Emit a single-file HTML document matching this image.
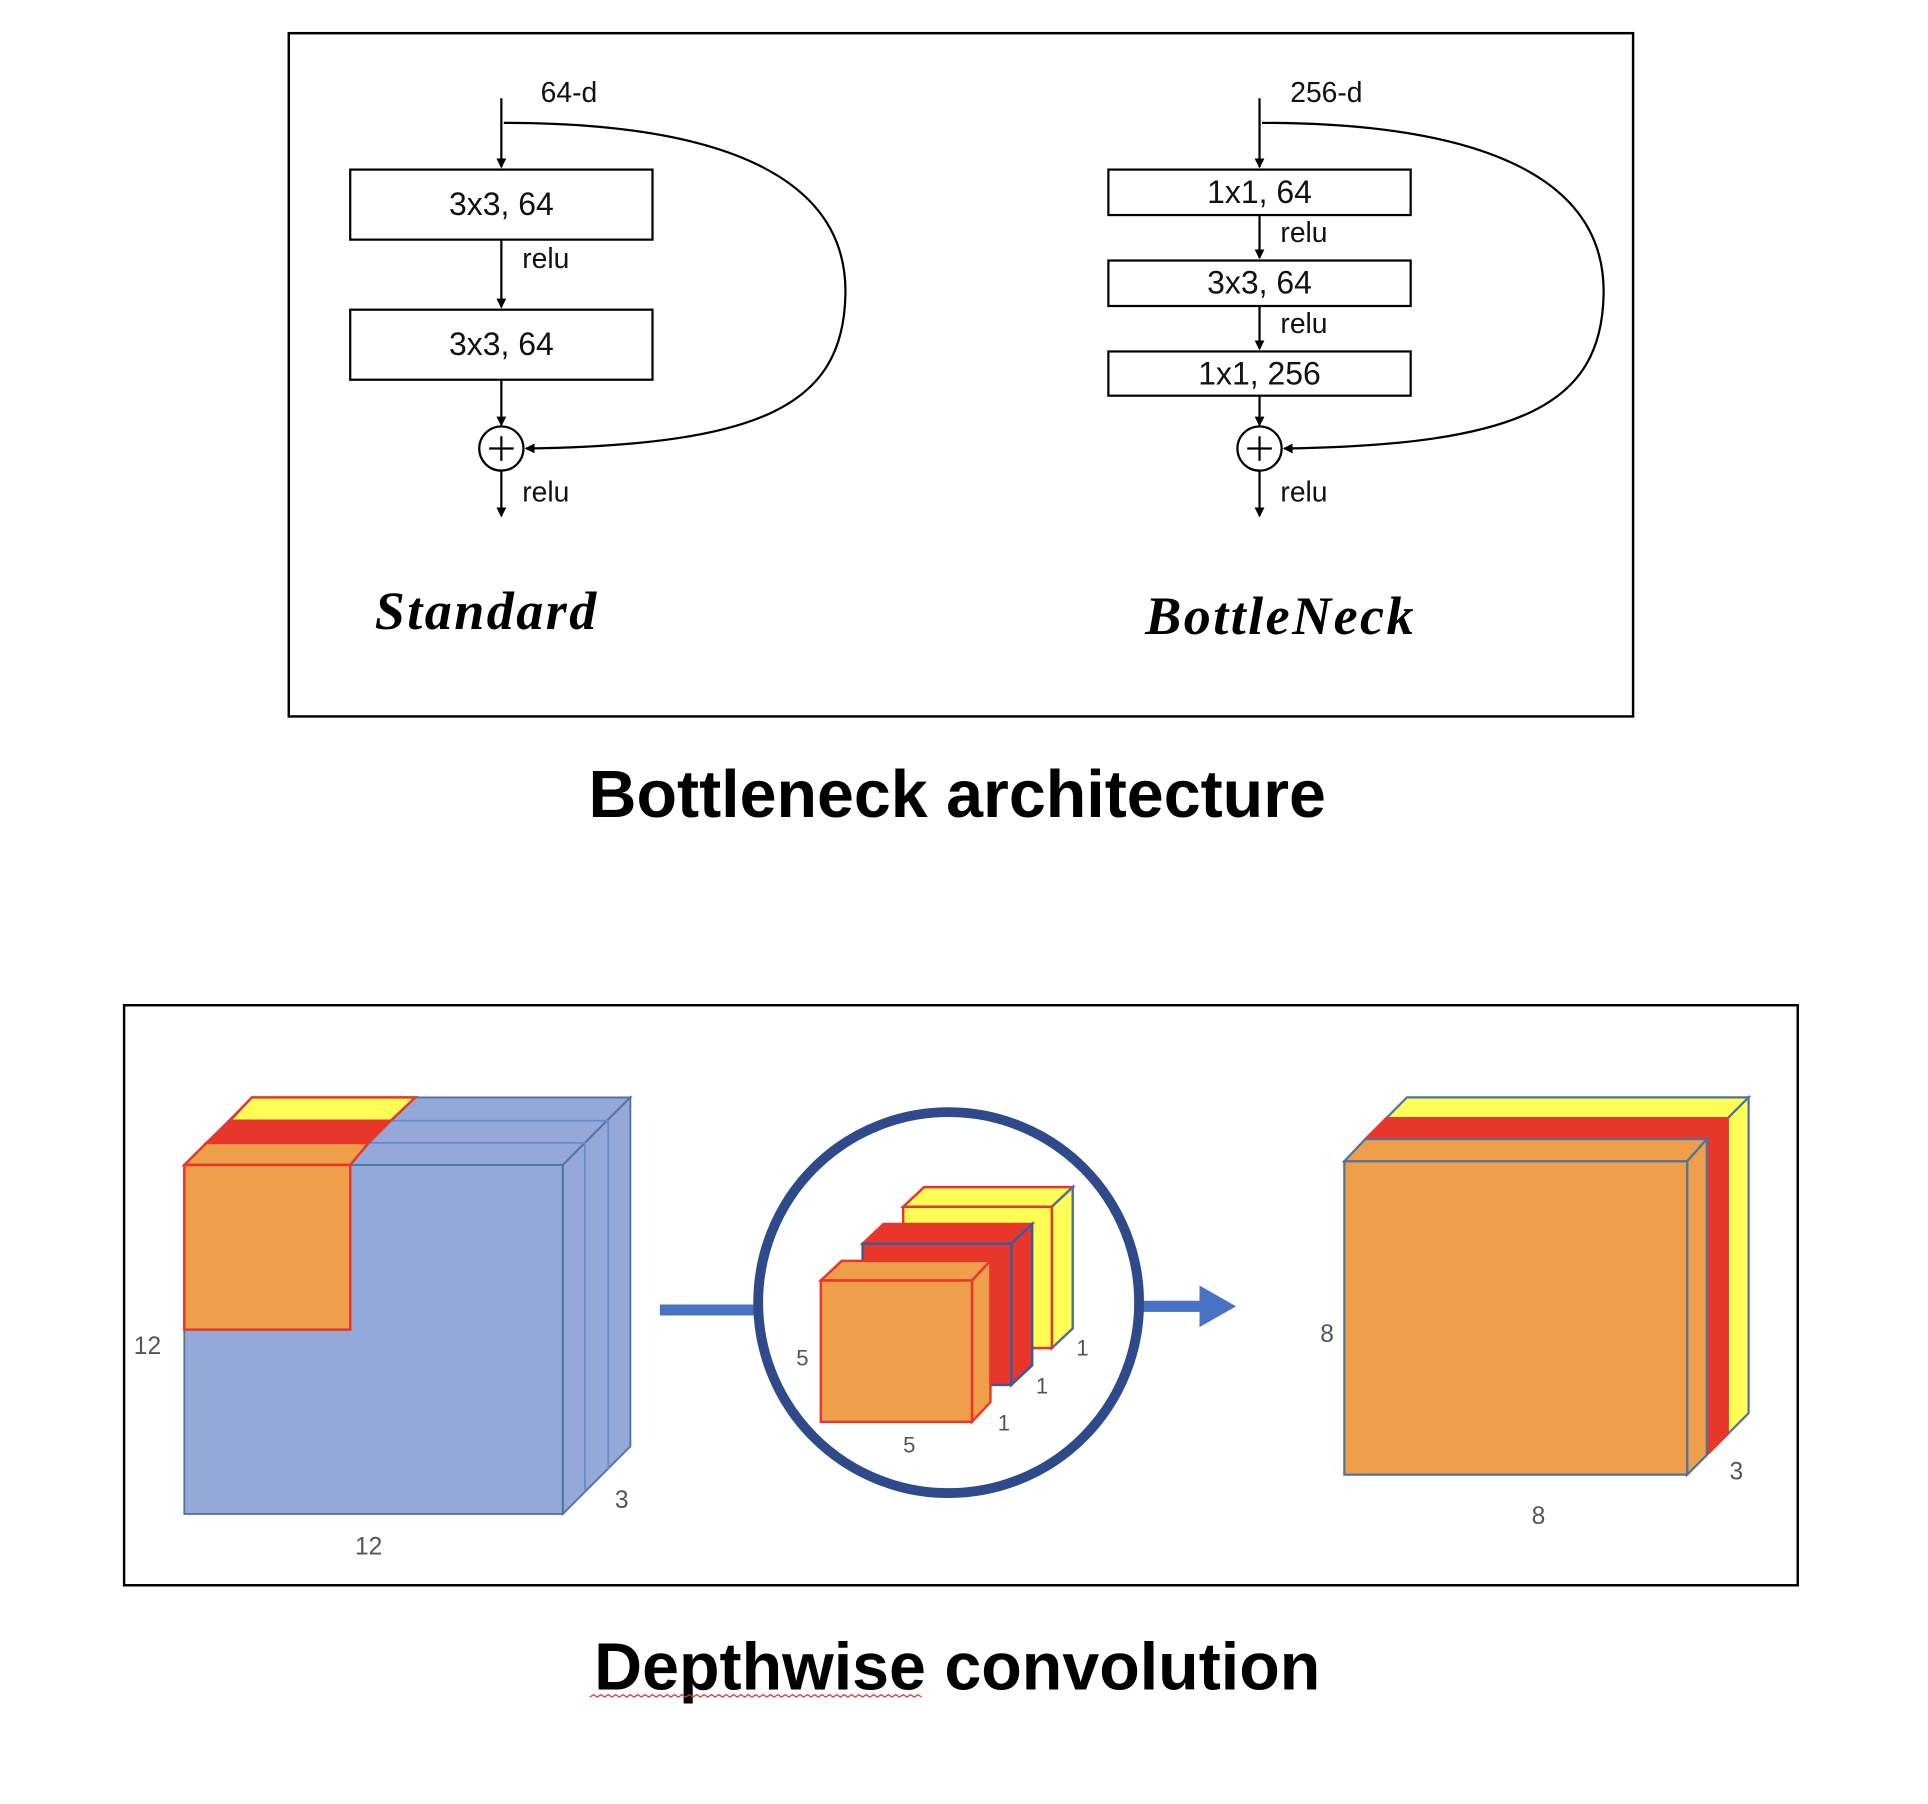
<!DOCTYPE html>
<html><head><meta charset="utf-8"><style>
html,body{margin:0;padding:0;background:#fff;}
svg{display:block;}
text{font-family:"Liberation Sans",sans-serif;}
</style></head><body>
<svg width="1928" height="1804" viewBox="0 0 1569 1468" preserveAspectRatio="none" xmlns="http://www.w3.org/2000/svg">
<defs>
<marker id="ah" markerWidth="8" markerHeight="8" refX="7" refY="4" orient="auto" markerUnits="userSpaceOnUse"><path d="M0,0 L8,4 L0,8 z" fill="#000"/></marker>
<marker id="bh" markerWidth="30" markerHeight="34" refX="2" refY="17" orient="auto" markerUnits="userSpaceOnUse"><path d="M0,0 L30,17 L0,34 z" fill="#4a72c4"/></marker>
</defs>
<rect x="235" y="27" width="1094" height="556" fill="none" stroke="#000" stroke-width="2"/>
<g stroke="#000" stroke-width="1.8" fill="none">
<line x1="408" y1="80" x2="408" y2="136" marker-end="url(#ah)"/>
<rect x="285" y="138" width="246" height="57"/>
<line x1="408" y1="195" x2="408" y2="250" marker-end="url(#ah)"/>
<rect x="285" y="252" width="246" height="57"/>
<line x1="408" y1="309" x2="408" y2="346" marker-end="url(#ah)"/>
<circle cx="408" cy="365" r="18"/>
<line x1="398" y1="365" x2="418" y2="365"/><line x1="408" y1="355" x2="408" y2="375"/>
<line x1="408" y1="383" x2="408" y2="420" marker-end="url(#ah)"/>
<path d="M410,100 C600,100 690,150 688,240 C686,330 620,362 428,365" marker-end="url(#ah)"/>
<line x1="1025" y1="80" x2="1025" y2="136" marker-end="url(#ah)"/>
<rect x="902" y="138" width="246" height="37"/>
<line x1="1025" y1="175" x2="1025" y2="210" marker-end="url(#ah)"/>
<rect x="902" y="212" width="246" height="37"/>
<line x1="1025" y1="249" x2="1025" y2="284" marker-end="url(#ah)"/>
<rect x="902" y="286" width="246" height="36"/>
<line x1="1025" y1="322" x2="1025" y2="346" marker-end="url(#ah)"/>
<circle cx="1025" cy="365" r="18"/>
<line x1="1015" y1="365" x2="1035" y2="365"/><line x1="1025" y1="355" x2="1025" y2="375"/>
<line x1="1025" y1="383" x2="1025" y2="420" marker-end="url(#ah)"/>
<path d="M1027,100 C1217,100 1307,150 1305,240 C1303,330 1237,362 1045,365" marker-end="url(#ah)"/>
</g>
<g font-size="23" fill="#111">
<text x="440" y="83">64-d</text>
<text x="408" y="175" text-anchor="middle" font-size="26">3x3, 64</text>
<text x="425" y="218">relu</text>
<text x="408" y="289" text-anchor="middle" font-size="26">3x3, 64</text>
<text x="425" y="408">relu</text>
<text x="1050" y="83">256-d</text>
<text x="1025" y="165" text-anchor="middle" font-size="26">1x1, 64</text>
<text x="1042" y="197">relu</text>
<text x="1025" y="239" text-anchor="middle" font-size="26">3x3, 64</text>
<text x="1042" y="271">relu</text>
<text x="1025" y="313" text-anchor="middle" font-size="26">1x1, 256</text>
<text x="1042" y="408">relu</text>
</g>
<text x="305" y="512" style="font-family:'Liberation Serif',serif;font-style:italic;font-weight:bold;font-size:44px;letter-spacing:2px">Standard</text>
<text x="932" y="516" style="font-family:'Liberation Serif',serif;font-style:italic;font-weight:bold;font-size:44px;letter-spacing:2px">BottleNeck</text>
<text x="779" y="665" text-anchor="middle" font-weight="bold" font-size="54">Bottleneck architecture</text>

<rect x="101" y="818" width="1362" height="472" fill="none" stroke="#000" stroke-width="2"/>
<g stroke="#4f72a0" stroke-width="1.5" fill="#94a9d8">
<polygon points="150,948 205,893 513,893 458,948"/>
<polygon points="458,948 513,893 513,1177 458,1232"/>
<rect x="150" y="948" width="308" height="284"/>
<polyline points="168,930 476,930 476,1214" fill="none" stroke="#6a8ad0"/>
<polyline points="187,912 495,912 495,1196" fill="none" stroke="#6a8ad0"/>
</g>
<g stroke="#e8362a" stroke-width="2">
<polygon points="187,912 205,893 338,893 318,912" fill="#fefe55"/>
<polygon points="168,930 187,912 318,912 300,930" fill="#e8362a"/>
<polygon points="150,948 168,930 300,930 285,948" fill="#ef9e4a"/>
<rect x="150" y="948" width="135" height="134" fill="#ef9e4a"/>
</g>
<g font-size="20" fill="#555">
<text x="120" y="1102" text-anchor="middle">12</text>
<text x="300" y="1265" text-anchor="middle">12</text>
<text x="506" y="1227" text-anchor="middle">3</text>
</g>
<line x1="537" y1="1066" x2="615" y2="1066" stroke="#4a72c4" stroke-width="9"/>
<line x1="930" y1="1063" x2="978" y2="1063" stroke="#4a72c4" stroke-width="9" marker-end="url(#bh)"/>
<circle cx="772" cy="1060" r="155" fill="none" stroke="#2e4a8a" stroke-width="8"/>
<g stroke-width="2">
<g stroke="#e8362a">
<polygon points="735,982 752,966 873,966 856,982" fill="#fefe55"/>
<polygon points="856,982 873,966 873,1081 856,1097" fill="#fefe55" stroke="#4f72a0"/>
<rect x="735" y="982" width="121" height="115" fill="#fefe55"/>
<polygon points="702,1012 719,996 840,996 823,1012" fill="#e8362a"/>
<polygon points="823,1012 840,996 840,1111 823,1127" fill="#e8362a" stroke="#3a5aa0"/>
<rect x="702" y="1012" width="121" height="115" fill="#e8362a" stroke="#3a5aa0"/>
<polygon points="668,1042 685,1026 806,1026 791,1042" fill="#ef9e4a"/>
<polygon points="791,1042 806,1026 806,1141 791,1157" fill="#ef9e4a"/>
<rect x="668" y="1042" width="123" height="115" fill="#ef9e4a"/>
</g>
</g>
<g font-size="18" fill="#555">
<text x="653" y="1111" text-anchor="middle">5</text>
<text x="740" y="1182" text-anchor="middle">5</text>
<text x="812" y="1164">1</text>
<text x="843" y="1134">1</text>
<text x="876" y="1103">1</text>
</g>
<g stroke-width="1.8">
<polygon points="1128,910 1145,893 1423,893 1406,910" fill="#fefe55" stroke="#4f72a0"/>
<polygon points="1406,910 1423,893 1423,1150 1406,1167" fill="#fefe55" stroke="#4f72a0"/>
<polygon points="1111,927 1128,910 1406,910 1389,927" fill="#e8362a" stroke="#e8362a"/>
<polygon points="1389,927 1406,910 1406,1167 1389,1184" fill="#e8362a" stroke="#e8362a"/>
<polygon points="1094,945 1111,927 1389,927 1373,945" fill="#ef9e4a" stroke="#4f72a0"/>
<polygon points="1373,945 1389,927 1389,1184 1373,1200" fill="#ef9e4a" stroke="#4f72a0"/>
<rect x="1094" y="945" width="279" height="255" fill="#ef9e4a" stroke="#4f72a0"/>
</g>
<g font-size="20" fill="#555">
<text x="1080" y="1092" text-anchor="middle">8</text>
<text x="1252" y="1240" text-anchor="middle">8</text>
<text x="1413" y="1204" text-anchor="middle">3</text>
</g>
<text x="779" y="1375" text-anchor="middle" font-weight="bold" font-size="54">Depthwise convolution</text>
<path d="M480,1381 l3,-2 l3,2 l3,-2 l3,2 l3,-2 l3,2 l3,-2 l3,2 l3,-2 l3,2 l3,-2 l3,2 l3,-2 l3,2 l3,-2 l3,2 l3,-2 l3,2 l3,-2 l3,2 l3,-2 l3,2 l3,-2 l3,2 l3,-2 l3,2 l3,-2 l3,2 l3,-2 l3,2 l3,-2 l3,2 l3,-2 l3,2 l3,-2 l3,2 l3,-2 l3,2 l3,-2 l3,2 l3,-2 l3,2 l3,-2 l3,2 l3,-2 l3,2 l3,-2 l3,2 l3,-2 l3,2 l3,-2 l3,2 l3,-2 l3,2 l3,-2 l3,2 l3,-2 l3,2 l3,-2 l3,2 l3,-2 l3,2 l3,-2 l3,2 l3,-2 l3,2 l3,-2 l3,2 l3,-2 l3,2 l3,-2 l3,2 l3,-2 l3,2 l3,-2 l3,2 l3,-2 l3,2 l3,-2 l3,2 l3,-2 l3,2 l3,-2 l3,2 l3,-2 l3,2 l3,-2 l3,2 l3,-2 l3,2" fill="none" stroke="#e03030" stroke-width="1"/>
</svg>
</body></html>
